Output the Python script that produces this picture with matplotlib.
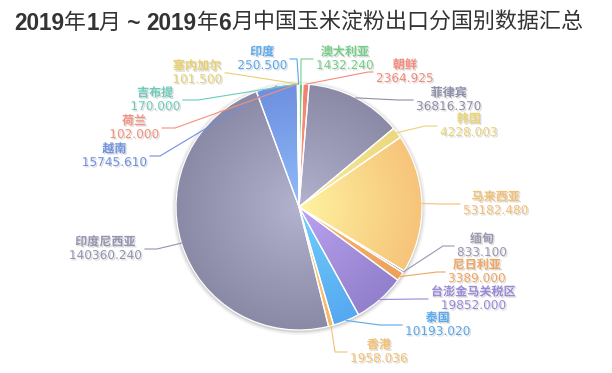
import numpy as np
import matplotlib
matplotlib.use("Agg")
import matplotlib.pyplot as plt
import matplotlib.colors as mcolors
import matplotlib.patheffects as pe
from matplotlib.patches import Wedge, Circle

# data: 2019-01 ~ 2019-06 corn starch export by country
names = ["澳大利亚", "朝鲜", "菲律宾", "韩国", "马来西亚", "缅甸", "尼日利亚",
         "台澎金马关税区", "泰国", "香港", "印度尼西亚", "越南", "荷兰", "吉布提",
         "塞内加尔", "印度"]
values = [1432.240, 2364.925, 36816.370, 4228.003, 53182.480, 833.100, 3389.000,
          19852.000, 10193.020, 1958.036, 140360.240, 15745.610, 102.000, 170.000,
          101.500, 250.500]

title_pieces = [("2019", True), ("年", False), ("1", True), ("月", False), (" ~ ", True),
                ("2019", True), ("年", False), ("6", True), ("月中国玉米淀粉出口分国别数据汇总", False)]

# styles: (light centre, dark edge) gradient per slice, and label colour
grad_colors = [("#92e8a2", "#6ecb80"), ("#ffa292", "#f08070"), ("#b4b4d0", "#8a8aa6"),
               ("#f8ee9e", "#ecd87e"), ("#fff6a2", "#f6c47a"), ("#b4b4d0", "#8a8aa6"),
               ("#f9b972", "#eea058"), ("#bca4f4", "#9280cc"), ("#72d2fb", "#56a8f0"),
               ("#fdce82", "#f4b866"), ("#b4b4d0", "#8a8aa6"), ("#92befb", "#6e90e0"),
               ("#ffa292", "#f08070"), ("#82e2d2", "#5ec8b8"), ("#f9ea92", "#e8d070"),
               ("#72c2fb", "#56a8f0")]
label_colors = ["#74cf86", "#f68a7a", "#8e8eaa", "#e8d47a", "#f5c072", "#9898b0",
                "#f0a660", "#9a88d8", "#58a8ee", "#f5c072", "#9494b0", "#6e90e0",
                "#f5907e", "#6cccbc", "#e8d070", "#58a8ee"]

# label layout in pixels from top: elbow x, elbow y, line end x
label_layout = [(301, 59, 313), (368, 72, 373), (398, 100, 413), (425, 126, 437),
                (440, 204, 460), (443, 246, 454), (437, 272, 445), (418, 299, 428),
                (380, 325, 402), (335, 352, 347), (157, 249, 145), (160, 156, 150),
                (175, 128, 162), (198, 100, 183), (228, 73, 225), (297, 59, 290)]

W, H = 612, 373
cx, cy, R = 299, 207, 123

fig = plt.figure(figsize=(W / 100, H / 100), dpi=100)
ax = fig.add_axes([0, 0, 1, 1])
ax.set_xlim(0, W)
ax.set_ylim(H, 0)
ax.axis("off")

# soft shadow behind the pie
for dr, a in [(4, 0.04), (2.5, 0.06), (1.2, 0.08)]:
    ax.add_patch(Circle((cx, cy + 1), R + dr, facecolor="#000000", edgecolor="none", alpha=a, zorder=1))

# y axis is inverted, so counterclock in data = clockwise on screen, -90 = top
wedges, _ = ax.pie(values, center=(cx, cy), radius=R, startangle=-90, counterclock=True,
                   colors=[c[1] for c in grad_colors], normalize=True,
                   wedgeprops=dict(edgecolor="none"))
for w in wedges:
    w.set_zorder(2)

# radial gradients clipped to each wedge
n = 300
gx, gy = np.meshgrid(np.linspace(-1, 1, n), np.linspace(-1, 1, n))
t = np.clip(np.sqrt(gx ** 2 + gy ** 2), 0, 1) ** 0.9
for w, (c0, c1) in zip(wedges, grad_colors):
    a0 = np.array(mcolors.to_rgb(c0))
    a1 = np.array(mcolors.to_rgb(c1))
    img = a0[None, None, :] * (1 - t[..., None]) + a1[None, None, :] * t[..., None]
    im = ax.imshow(img, extent=(cx - R, cx + R, cy + R, cy - R), interpolation="bilinear", zorder=3)
    im.set_clip_path(w)
    ax.add_patch(Wedge(w.center, w.r, w.theta1, w.theta2, facecolor="none",
                       edgecolor="white", linewidth=0.9, zorder=4))

fig.canvas.draw()
renderer = fig.canvas.get_renderer()

# labels with leader lines
shadow = [pe.withSimplePatchShadow(offset=(1, -1), shadow_rgbFace="#888888", alpha=0.3)]
fam = ["DejaVu Sans", "Noto Sans CJK SC"]
for w, name, val, col, (ex, ey, endx) in zip(wedges, names, values, label_colors, label_layout):
    mid = np.deg2rad((w.theta1 + w.theta2) / 2)
    sx = cx + R * np.cos(mid)
    sy = cy + R * np.sin(mid)
    ax.plot([sx, ex, endx], [sy, ey, ey], color=col, linewidth=0.8, zorder=5,
            solid_joinstyle="miter")
    t_name = ax.text(0, ey - 7, name, color=col, ha="center", va="center", fontsize=8.7,
                     fontweight="bold", family=["Noto Sans CJK SC", "DejaVu Sans"],
                     path_effects=shadow, zorder=6)
    t_val = ax.text(0, ey + 6.5, f"{val:.3f}", color=col, ha="center", va="center",
                    fontsize=8.7, family=fam, path_effects=shadow, zorder=6)
    bw = max(t_name.get_window_extent(renderer).width, t_val.get_window_extent(renderer).width)
    bx = endx + 3 + bw / 2 if endx > ex else endx - 3 - bw / 2
    t_name.set_x(bx)
    t_val.set_x(bx)

# title built from pieces: bold latin digits, regular CJK
x = 14
for s, bold in title_pieces:
    if bold:
        txt = ax.text(x, 23, s, fontsize=16.3, fontweight="bold", color="#333333",
                      family=["Liberation Sans", "DejaVu Sans"], ha="left", va="center")
    else:
        txt = ax.text(x, 23, s, fontsize=15.8, color="#333333",
                      family=["Noto Sans CJK SC", "DejaVu Sans"], ha="left", va="center")
    x += txt.get_window_extent(renderer).width

ax.set_xlim(0, W)
ax.set_ylim(H, 0)
fig.savefig("out.png", dpi=100)
